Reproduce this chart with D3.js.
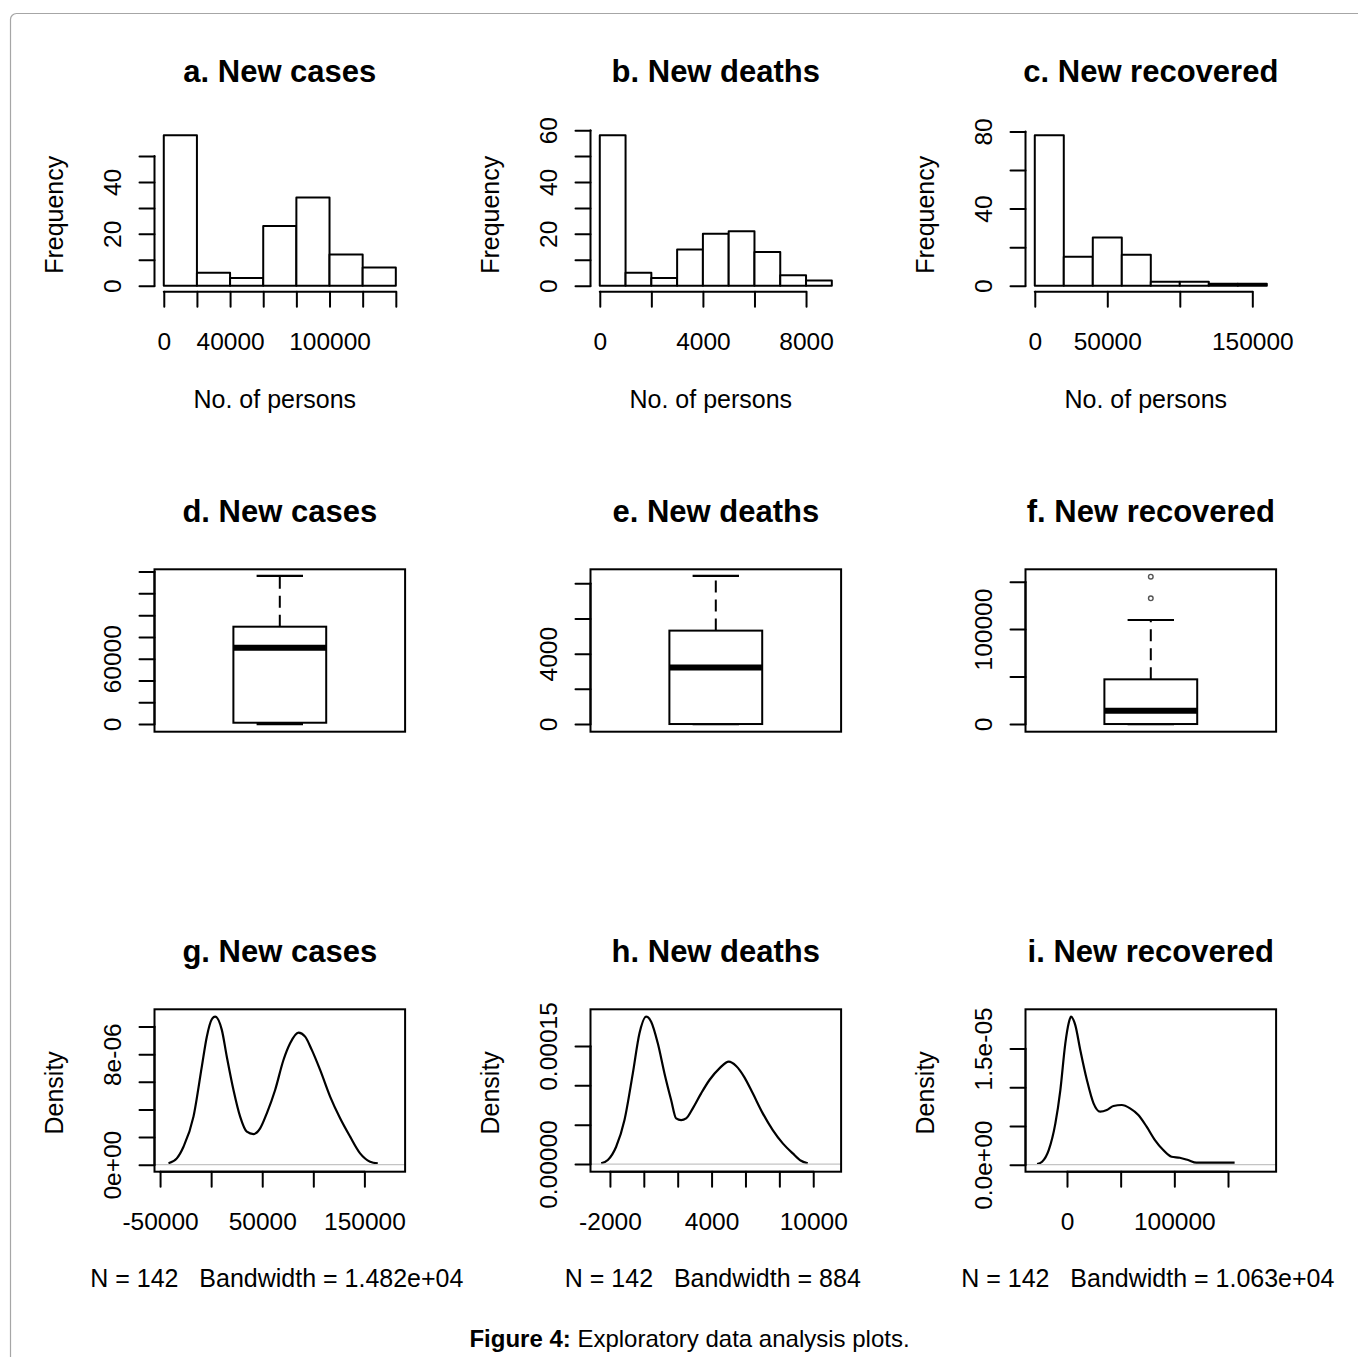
<!DOCTYPE html>
<html>
<head>
<meta charset="utf-8">
<script src="https://cdn.jsdelivr.net/npm/d3@7"></script>
<style>
  body { margin: 0; background: #fff; }
  svg { display: block; font-family: "Liberation Sans", Arial, Helvetica, sans-serif; }
  .tick line, .axis-line { stroke: #000; stroke-width: 2; stroke-linecap: round; }
  .tick text { fill: #000; }
</style>
</head>
<body>
<div id="chart"></div>
<script>
// ---- histogram data (bin breaks + counts) ----
const casesBreaks = [0, 20000, 40000, 60000, 80000, 100000, 120000, 140000];
const casesCounts = [58, 5, 3, 23, 34, 12, 7];
const deathsBreaks = [0, 1000, 2000, 3000, 4000, 5000, 6000, 7000, 8000, 9000];
const deathsCounts = [58, 5, 3, 14, 20, 21, 13, 4, 2];
const recBreaks = [0, 20000, 40000, 60000, 80000, 100000, 120000, 140000, 160000];
const recCounts = [78, 15, 25, 16, 2, 2, 1, 1];

// ---- boxplot stats: lower whisker, Q1, median, Q3, upper whisker ----
const casesBox = [0, 1200, 70100, 89400, 136000];
const deathsBox = [0, 0, 3220, 5310, 8420];
const recBox = [0, 0, 14000, 47100, 109600];
const recOutliers = [132500, 155300];

// ---- kernel density curves ----
const casesDensX = [-41750, -33600, -27070, -17290, -9130, -4240, 650, 3910, 10440, 15330, 21860, 28380, 34900, 41430, 47950, 54480, 62630, 70790, 77310, 85460, 91990, 98510, 106670, 116450, 126240, 136030, 145810, 155600, 163100];
const casesDensY = [0.10e-6, 0.46e-6, 1.30e-6, 3.48e-6, 7.10e-6, 9.27e-6, 10.53e-6, 10.72e-6, 9.76e-6, 7.82e-6, 5.41e-6, 3.48e-6, 2.39e-6, 2.22e-6, 2.63e-6, 3.72e-6, 5.41e-6, 7.58e-6, 8.79e-6, 9.56e-6, 9.27e-6, 8.31e-6, 6.86e-6, 4.93e-6, 3.36e-6, 2.03e-6, 0.82e-6, 0.22e-6, 0.10e-6];
const deathsDensX = [-2518, -2124, -1633, -1141, -649, -256, 138, 433, 826, 1220, 1613, 1908, 2203, 2498, 2892, 3383, 3875, 4465, 5016, 5449, 5940, 6432, 7022, 7612, 8202, 8792, 9284, 9677];
const deathsDensY = [0.85e-6, 5.1e-6, 22.0e-6, 55.9e-6, 115.2e-6, 166.1e-6, 187.3e-6, 180.9e-6, 153.4e-6, 115.2e-6, 81.4e-6, 58.0e-6, 55.9e-6, 58.0e-6, 70.8e-6, 89.8e-6, 106.8e-6, 121.6e-6, 130.1e-6, 124.6e-6, 110.2e-6, 89.8e-6, 64.4e-6, 43.2e-6, 26.3e-6, 13.6e-6, 4.2e-6, 0.85e-6];
const recDensX = [-27830, -23190, -17010, -10820, -6180, -1550, 1550, 3710, 7730, 12370, 18550, 24740, 30920, 37100, 43290, 51020, 58750, 66480, 74210, 81940, 89670, 97400, 105130, 112860, 120590, 136050, 156150];
const recDensY = [0.09e-6, 0.39e-6, 1.89e-6, 5.33e-6, 9.63e-6, 15.65e-6, 18.23e-6, 19.09e-6, 18.0e-6, 14.8e-6, 10.92e-6, 7.91e-6, 6.84e-6, 7.05e-6, 7.57e-6, 7.70e-6, 7.27e-6, 6.41e-6, 4.90e-6, 3.18e-6, 1.89e-6, 1.03e-6, 0.90e-6, 0.60e-6, 0.26e-6, 0.26e-6, 0.26e-6];
const nObs = 142;
const bandwidths = ['1.482e+04', '884', '1.063e+04'];

// ---- axis limits (box + density panels) ----
const boxYLim = [[-7040, 142110], [-436, 8796], [-8080, 163030]];
const densXLim = [[-55450, 189850], [-3147, 11645], [-38650, 194800]];
const densYLim = [[-0.507e-6, 11.25e-6], [-9.7e-6, 196.6e-6], [-0.9e-6, 20.04e-6]];

// ---- ticks + labels ('' = unlabeled tick) ----
const histXTicks = [
  [0, 20000, 40000, 60000, 80000, 100000, 120000, 140000],
  [0, 2000, 4000, 6000, 8000],
  [0, 50000, 100000, 150000]
];
const histXLabels = [
  ['0', '', '40000', '', '', '100000', '', ''],
  ['0', '', '4000', '', '8000'],
  ['0', '50000', '', '150000']
];
const histYTicks = [[0, 10, 20, 30, 40, 50], [0, 10, 20, 30, 40, 50, 60], [0, 20, 40, 60, 80]];
const histYLabels = [['0', '', '20', '', '40', ''], ['0', '', '20', '', '40', '', '60'], ['0', '', '40', '', '80']];
const boxYTicks = [
  [0, 20000, 40000, 60000, 80000, 100000, 120000, 140000],
  [0, 2000, 4000, 6000, 8000],
  [0, 50000, 100000, 150000]
];
const boxYLabels = [['0', '', '', '60000', '', '', '', ''], ['0', '', '4000', '', ''], ['0', '', '100000', '']];
const densXTicks = [
  [-50000, 0, 50000, 100000, 150000],
  [-2000, 0, 2000, 4000, 6000, 8000, 10000],
  [0, 50000, 100000, 150000]
];
const densXLabels = [
  ['-50000', '', '50000', '', '150000'],
  ['-2000', '', '', '4000', '', '', '10000'],
  ['0', '', '100000', '']
];
const densYTicks = [
  [0, 2e-6, 4e-6, 6e-6, 8e-6, 10e-6],
  [0, 5e-5, 10e-5, 15e-5],
  [0, 5e-6, 10e-6, 15e-6]
];
const densYLabels = [['0e+00', '', '', '', '8e-06', ''], ['0.00000', '', '', '0.00015'], ['0.0e+00', '', '', '1.5e-05']];

const histTitles = ['a. New cases', 'b. New deaths', 'c. New recovered'];
const boxTitles = ['d. New cases', 'e. New deaths', 'f. New recovered'];
const densTitles = ['g. New cases', 'h. New deaths', 'i. New recovered'];

// ---- layout ----
const W = 1358, H = 1357;
const COL_X = [154.5, 590.5, 1025.5];
const ROW_Y = [129.3, 569.3, 1009.3];
const PW = 250.6, PH = 162.4;
const FS_TICK = 24.5;
const FS_LAB = 25;
const FS_MAIN = 31;

const rExt = ([a, b]) => { const d = (b - a) * 0.04; return [a - d, b + d]; };

const svg = d3.select('#chart').append('svg').attr('width', W).attr('height', H);

// page frame
svg.append('rect')
  .attr('x', 10.5).attr('y', 13.5).attr('width', 1500).attr('height', 1500).attr('rx', 6)
  .attr('fill', 'none').attr('stroke', '#a6a6a6').attr('stroke-width', 1.2);

function panel(col, row) {
  return svg.append('g').attr('transform', `translate(${COL_X[col]},${ROW_Y[row]})`);
}

function title(g, text) {
  g.append('text').attr('x', PW / 2).attr('y', -47.3).attr('text-anchor', 'middle')
    .attr('font-size', FS_MAIN).attr('font-weight', 'bold').text(text);
}

function axisBottom(g, x, ticks, labels) {
  const ax = g.append('g').attr('transform', `translate(0,${PH})`)
    .call(d3.axisBottom(x).tickValues(ticks).tickSize(15).tickFormat((d, i) => labels[i]));
  ax.attr('font-size', FS_TICK).attr('font-family', null);
  ax.select('.domain').remove();
  ax.append('line').attr('class', 'axis-line')
    .attr('x1', x(ticks[0])).attr('x2', x(ticks[ticks.length - 1]));
  ax.selectAll('.tick text').attr('y', 58).attr('dy', null);
}

function axisLeft(g, y, ticks, labels) {
  const ax = g.append('g')
    .call(d3.axisLeft(y).tickValues(ticks).tickSize(15).tickFormat((d, i) => labels[i]));
  ax.attr('font-size', FS_TICK).attr('font-family', null);
  ax.select('.domain').remove();
  ax.append('line').attr('class', 'axis-line')
    .attr('y1', y(ticks[0])).attr('y2', y(ticks[ticks.length - 1]));
  ax.selectAll('.tick text').attr('x', 0).attr('dy', null)
    .attr('text-anchor', 'middle').attr('transform', 'translate(-34,0) rotate(-90)');
}

function yLabel(g, text, cy) {
  g.append('text').attr('font-size', FS_LAB).attr('text-anchor', 'middle')
    .attr('transform', `translate(-92,${cy}) rotate(-90)`).text(text);
}

function frame(g) {
  g.append('rect').attr('width', PW).attr('height', PH)
    .attr('fill', 'none').attr('stroke', '#000').attr('stroke-width', 2);
}

// ---- row 1: histograms ----
const hists = [
  { breaks: casesBreaks, counts: casesCounts },
  { breaks: deathsBreaks, counts: deathsCounts },
  { breaks: recBreaks, counts: recCounts }
];
hists.forEach((h, c) => {
  const g = panel(c, 0);
  const x = d3.scaleLinear().domain(rExt([h.breaks[0], h.breaks[h.breaks.length - 1]])).range([0, PW]);
  const y = d3.scaleLinear().domain(rExt([0, d3.max(h.counts)])).range([PH, 0]);
  g.selectAll('rect.bar').data(h.counts).join('rect').attr('class', 'bar')
    .attr('x', (d, i) => x(h.breaks[i]))
    .attr('width', (d, i) => x(h.breaks[i + 1]) - x(h.breaks[i]))
    .attr('y', d => y(d))
    .attr('height', d => y(0) - y(d))
    .attr('fill', '#fff').attr('stroke', '#000').attr('stroke-width', 2)
    .attr('stroke-linejoin', 'round');
  axisBottom(g, x, histXTicks[c], histXLabels[c]);
  axisLeft(g, y, histYTicks[c], histYLabels[c]);
  title(g, histTitles[c]);
  yLabel(g, 'Frequency', 85.5);
  g.append('text').attr('x', PW / 2 - 5).attr('y', PH + 116.3).attr('text-anchor', 'middle')
    .attr('font-size', FS_LAB).text('No. of persons');
});

// ---- row 2: boxplots ----
const boxes = [
  { stats: casesBox, out: [] },
  { stats: deathsBox, out: [] },
  { stats: recBox, out: recOutliers }
];
boxes.forEach((b, c) => {
  const g = panel(c, 1);
  const x = d3.scaleLinear().domain(rExt([0.5, 1.5])).range([0, PW]);
  const y = d3.scaleLinear().domain(boxYLim[c]).range([PH, 0]);
  const [lo, q1, med, q3, hi] = b.stats;
  // whiskers
  g.append('line').attr('x1', x(1)).attr('x2', x(1)).attr('y1', y(q3)).attr('y2', y(hi))
    .attr('stroke', '#000').attr('stroke-width', 2).attr('stroke-dasharray', '12,7');
  g.append('line').attr('x1', x(1)).attr('x2', x(1)).attr('y1', y(q1)).attr('y2', y(lo))
    .attr('stroke', '#000').attr('stroke-width', 2).attr('stroke-dasharray', '12,7');
  [lo, hi].forEach(v => {
    g.append('line').attr('x1', x(0.9)).attr('x2', x(1.1)).attr('y1', y(v)).attr('y2', y(v))
      .attr('stroke', '#000').attr('stroke-width', 2.2);
  });
  g.append('rect').attr('x', x(0.8)).attr('width', x(1.2) - x(0.8))
    .attr('y', y(q3)).attr('height', y(q1) - y(q3))
    .attr('fill', '#fff').attr('stroke', '#000').attr('stroke-width', 2);
  g.append('line').attr('x1', x(0.8)).attr('x2', x(1.2)).attr('y1', y(med)).attr('y2', y(med))
    .attr('stroke', '#000').attr('stroke-width', 6);
  g.selectAll('circle.out').data(b.out).join('circle').attr('class', 'out')
    .attr('cx', x(1)).attr('cy', d => y(d)).attr('r', 2.3)
    .attr('fill', 'none').attr('stroke', '#555').attr('stroke-width', 1.4);
  frame(g);
  axisLeft(g, y, boxYTicks[c], boxYLabels[c]);
  title(g, boxTitles[c]);
});

// ---- row 3: density plots ----
const dens = [
  { xs: casesDensX, ys: casesDensY },
  { xs: deathsDensX, ys: deathsDensY },
  { xs: recDensX, ys: recDensY }
];
dens.forEach((dd, c) => {
  const g = panel(c, 2);
  const x = d3.scaleLinear().domain(densXLim[c]).range([0, PW]);
  const y = d3.scaleLinear().domain(densYLim[c]).range([PH, 0]);
  const pts = dd.xs.map((v, i) => [v, dd.ys[i]]);
  g.append('path').datum(pts)
    .attr('d', d3.line().x(d => x(d[0])).y(d => y(d[1])).curve(d3.curveMonotoneX))
    .attr('fill', 'none').attr('stroke', '#000').attr('stroke-width', 2.2)
    .attr('stroke-linejoin', 'round');
  g.append('line').attr('x1', 0).attr('x2', PW).attr('y1', y(0)).attr('y2', y(0))
    .attr('stroke', '#c4c4c4').attr('stroke-width', 1.2);
  frame(g);
  axisBottom(g, x, densXTicks[c], densXLabels[c]);
  axisLeft(g, y, densYTicks[c], densYLabels[c]);
  title(g, densTitles[c]);
  yLabel(g, 'Density', 83.5);
  g.append('text').attr('x', PW / 2 - 3).attr('y', PH + 115.3).attr('text-anchor', 'middle')
    .attr('font-size', FS_LAB).attr('xml:space', 'preserve').style('white-space', 'pre')
    .text(`N = ${nObs}   Bandwidth = ${bandwidths[c]}`);
});

// ---- caption ----
const cap = svg.append('text').attr('x', 689.5).attr('y', 1347).attr('text-anchor', 'middle')
  .attr('font-size', 24).style('white-space', 'pre');
cap.append('tspan').attr('font-weight', 'bold').text('Figure 4:');
cap.append('tspan').text(' Exploratory data analysis plots.');
</script>
</body>
</html>
